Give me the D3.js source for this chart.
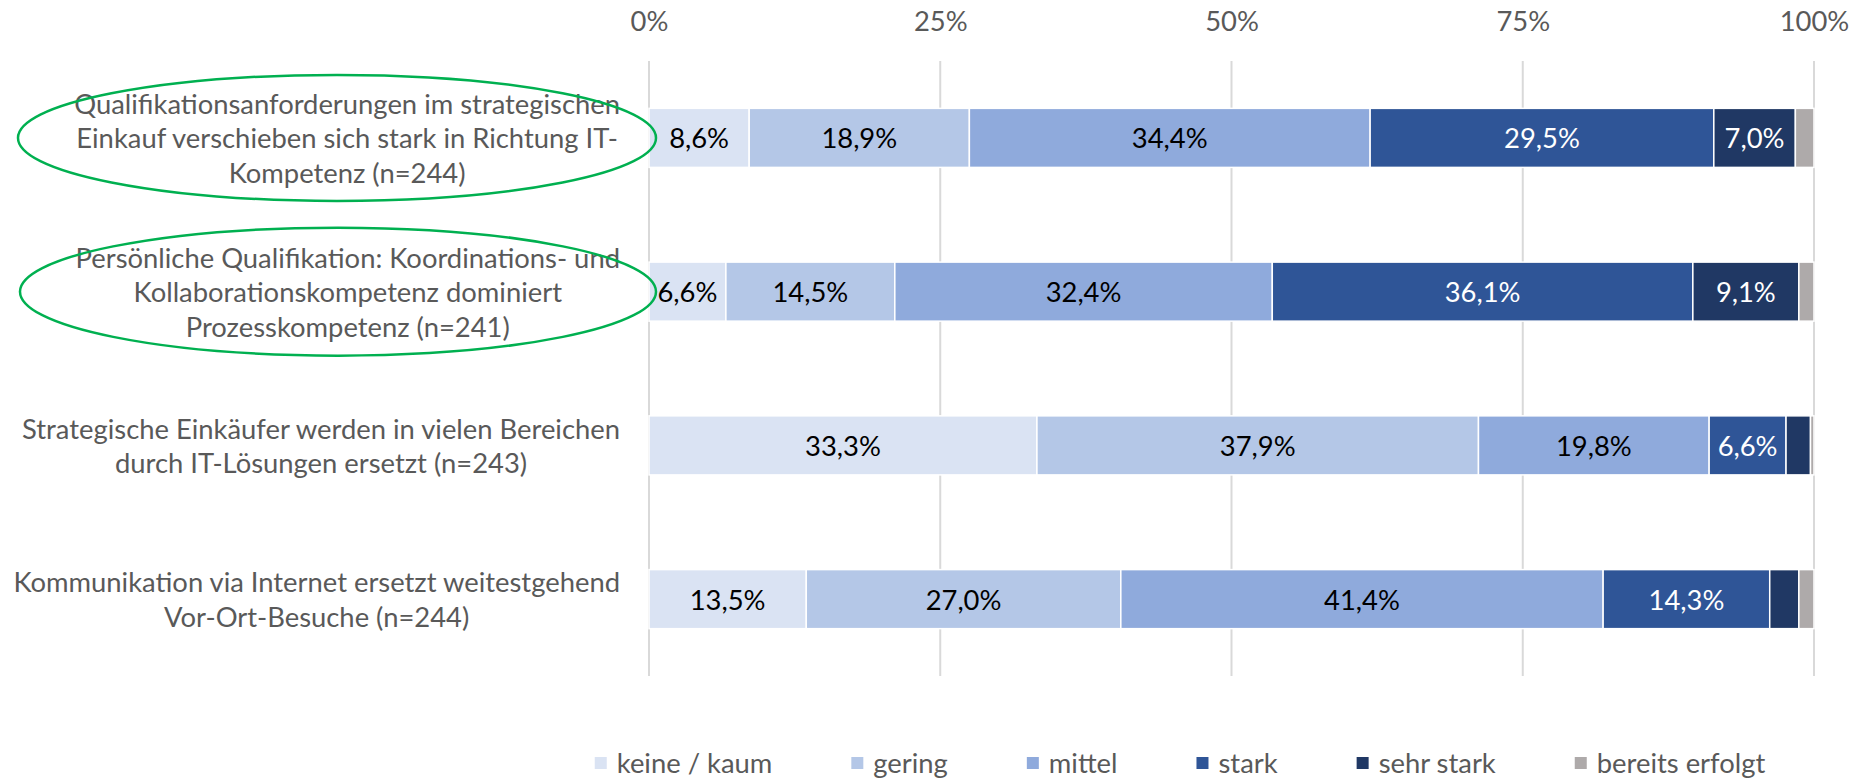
<!DOCTYPE html>
<html>
<head>
<meta charset="utf-8">
<script src="https://cdn.jsdelivr.net/npm/d3@7"></script>
<style>
  html, body { margin: 0; padding: 0; background: #ffffff; }
  svg { display: block; }
</style>
</head>
<body>
<svg id="chart" width="1863" height="782"></svg>
<script>
// ---------- DATA ----------
const categories = [
  ["Qualifikationsanforderungen im strategischen", "Einkauf verschieben sich stark in Richtung IT-", "Kompetenz (n=244)"],
  ["Persönliche Qualifikation: Koordinations- und", "Kollaborationskompetenz dominiert", "Prozesskompetenz (n=241)"],
  ["Strategische Einkäufer werden in vielen Bereichen", "durch IT-Lösungen ersetzt (n=243)"],
  ["Kommunikation via Internet ersetzt weitestgehend", "Vor-Ort-Besuche (n=244)"]
];
const seriesNames = ["keine / kaum", "gering", "mittel", "stark", "sehr stark", "bereits erfolgt"];
const keineKaum      = [8.6, 6.6, 33.3, 13.5];
const gering         = [18.9, 14.5, 37.9, 27.0];
const mittel         = [34.4, 32.4, 19.8, 41.4];
const stark          = [29.5, 36.1, 6.6, 14.3];
const sehrStark      = [7.0, 9.1, 2.1, 2.5];
const bereitsErfolgt = [1.6, 1.3, 0.3, 1.3];
const tickValues = [0, 25, 50, 75, 100];
const tickLabels = ["0%", "25%", "50%", "75%", "100%"];
const highlighted = [0, 1]; // categories circled in green

// ---------- STYLE / LAYOUT ----------
const colors = ["#DAE3F3", "#B4C7E7", "#8FAADC", "#2F5597", "#203864", "#AEAAAA"];
const labelColors = ["#000000", "#000000", "#000000", "#ffffff", "#ffffff", "#ffffff"];
const FONT = "Lato, 'Open Sans', sans-serif";
const textGray = "#595959";
const plot = { left: 649, right: 1814, top: 61, bottom: 676 };
const labelRight = 620;
const lineH = 34.5;

const svg = d3.select("#chart");

// fit font size so that text width matches the reference font (Calibri ~29px)
const probe = svg.append("text").attr("font-family", FONT).attr("font-size", 100)
  .text("Qualifikationsanforderungen im strategischen");
const probeW = probe.node().getComputedTextLength();
probe.remove();
const FS = 546 / probeW * 100;

const seriesData = [keineKaum, gering, mittel, stark, sehrStark, bereitsErfolgt];
const rows = categories.map((c, i) => {
  const r = { idx: i };
  seriesNames.forEach((s, j) => r[s] = seriesData[j][i]);
  return r;
});
const stacked = d3.stack().keys(seriesNames)(rows);

const x = d3.scaleLinear().domain([0, 100]).range([plot.left, plot.right]);
const y = d3.scaleBand().domain(d3.range(categories.length))
  .range([plot.top, plot.bottom]).paddingInner(0.616).paddingOuter(0.308);

// gridlines
svg.append("g").selectAll("line").data(tickValues).join("line")
  .attr("x1", d => x(d)).attr("x2", d => x(d))
  .attr("y1", plot.top).attr("y2", plot.bottom)
  .attr("stroke", "#D9D9D9").attr("stroke-width", 2);

// top axis labels
const axis = d3.axisTop(x).tickValues(tickValues).tickFormat((d, i) => tickLabels[i]).tickSize(0).tickPadding(0);
const ag = svg.append("g").attr("transform", "translate(0,31)").call(axis);
ag.select(".domain").remove();
ag.selectAll("text").attr("font-family", FONT).attr("font-size", FS).attr("fill", textGray)
  .attr("dy", 0);

// bars
const fmt = v => d3.format(".1f")(v).replace(".", ",") + "%";
const sg = svg.append("g").selectAll("g").data(stacked).join("g")
  .attr("fill", (d, i) => colors[i]);
sg.selectAll("rect").data(d => d).join("rect")
  .attr("x", d => x(d[0])).attr("width", d => x(d[1]) - x(d[0]))
  .attr("y", (d, i) => y(i)).attr("height", y.bandwidth())
  .attr("stroke", "#ffffff").attr("stroke-width", 1.5);

// data labels
stacked.forEach((ser, si) => {
  svg.append("g").selectAll("text").data(ser.filter(d => d[1] - d[0] >= 5)).join("text")
    .attr("x", d => (x(d[0]) + x(d[1])) / 2)
    .attr("y", d => y(d.data.idx) + y.bandwidth() / 2)
    .attr("text-anchor", "middle").attr("dominant-baseline", "central")
    .attr("font-family", FONT).attr("font-size", FS).attr("fill", labelColors[si])
    .text(d => fmt(d[1] - d[0]));
});

// category labels (centered in a box right-aligned at labelRight)
categories.forEach((lines, i) => {
  const g = svg.append("g");
  const t = g.selectAll("text").data(lines).join("text")
    .attr("font-family", FONT).attr("font-size", FS).attr("fill", textGray)
    .attr("text-anchor", "middle").attr("dominant-baseline", "central")
    .text(d => d);
  let maxW = 0;
  t.each(function () { maxW = Math.max(maxW, this.getComputedTextLength()); });
  const cx = labelRight - maxW / 2;
  const cy = y(i) + y.bandwidth() / 2;
  t.attr("x", cx).attr("y", (d, k) => cy + (k - (lines.length - 1) / 2) * lineH);
});

// green ellipses highlighting categories
const ellipseGeom = [{ cx: 337, rx: 319, ry: 63 }, { cx: 338, rx: 318, ry: 64 }];
svg.append("g").selectAll("ellipse").data(highlighted).join("ellipse")
  .attr("cx", (d, k) => ellipseGeom[k].cx)
  .attr("cy", d => y(d) + y.bandwidth() / 2)
  .attr("rx", (d, k) => ellipseGeom[k].rx)
  .attr("ry", (d, k) => ellipseGeom[k].ry)
  .attr("fill", "none").attr("stroke", "#00B050").attr("stroke-width", 2.5);

// legend
const leg = svg.append("g");
const legendY = 762;
const items = leg.selectAll("g").data(seriesNames).join("g");
items.append("rect").attr("width", 12).attr("height", 12).attr("y", legendY - 5)
  .attr("fill", (d, i) => colors[i]);
items.append("text").attr("x", 22).attr("y", legendY)
  .attr("dominant-baseline", "central")
  .attr("font-family", FONT).attr("font-size", FS).attr("fill", textGray)
  .text(d => d);
let cur = 0;
const pos = [];
items.each(function () {
  const w = d3.select(this).select("text").node().getComputedTextLength();
  pos.push(cur);
  cur += 22 + w + 79;
});
const totalW = cur - 79;
const legStart = 1180 - totalW / 2;
items.attr("transform", (d, i) => `translate(${legStart + pos[i]},0)`);
</script>
</body>
</html>
